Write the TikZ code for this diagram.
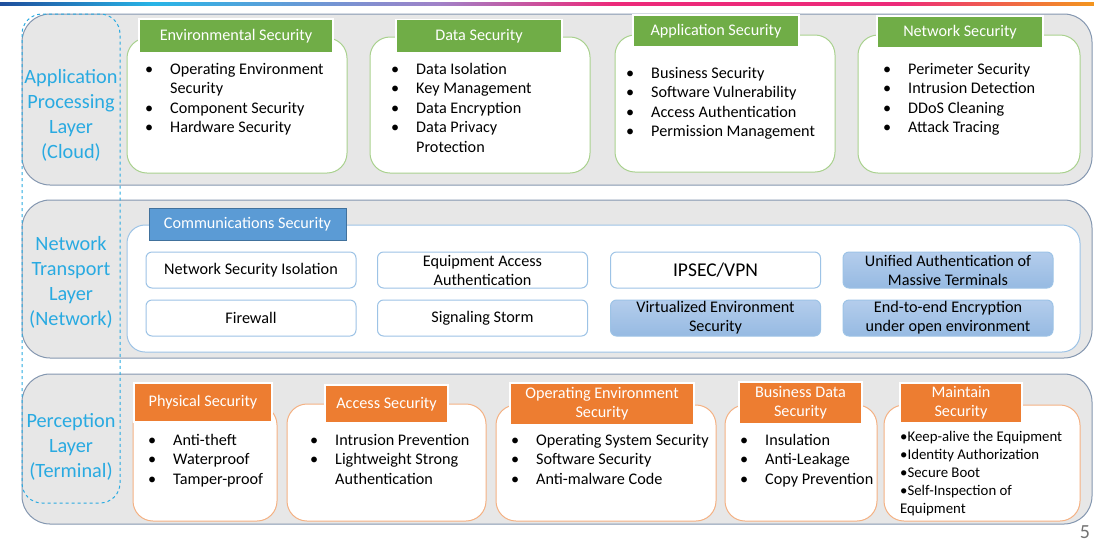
\documentclass[tikz,border=0pt]{standalone}
\usepackage{fontspec}
\setmainfont{Carlito}
\usepackage{tikz}
\usetikzlibrary{positioning}

\definecolor{layerfill}{RGB}{231,231,231}
\definecolor{layeredge}{RGB}{132,151,176}
\definecolor{labelblue}{RGB}{41,170,225}
\definecolor{greenhd}{RGB}{112,173,71}
\definecolor{greenedge}{RGB}{169,209,142}
\definecolor{orangehd}{RGB}{237,125,49}
\definecolor{orangeedge}{RGB}{244,177,131}
\definecolor{commhd}{RGB}{91,155,213}
\definecolor{commedge}{RGB}{65,113,156}
\definecolor{itemedge}{RGB}{157,195,230}
\definecolor{itemtop}{RGB}{180,205,236}
\definecolor{itembot}{RGB}{150,186,226}
\definecolor{barA}{RGB}{31,78,156}
\definecolor{barB}{RGB}{40,180,230}
\definecolor{barC}{RGB}{160,130,200}
\definecolor{barD}{RGB}{236,42,122}
\definecolor{barE}{RGB}{243,150,30}

\pgfdeclarehorizontalshading{topbar}{100bp}{color(0bp)=(barA); color(25bp)=(barA);
  color(32bp)=(barB); color(45bp)=(barC); color(53bp)=(barD); color(66bp)=(barD);
  color(75bp)=(barE); color(100bp)=(barE)}

\newcommand{\bul}{\makebox[25pt][l]{\textbullet}}
\newcommand{\seclist}[1]{\begin{tabular}[t]{@{}l@{}l@{}}#1\end{tabular}}
\newcommand{\plainlist}[1]{\begin{tabular}[t]{@{}l@{}}#1\end{tabular}}

\begin{document}
\begin{tikzpicture}[x=1pt,y=-1pt,
    layerbox/.style={draw=layeredge,fill=layerfill,line width=1pt,rounded corners=28pt},
    layerlabel/.style={text=labelblue,align=center,font=\fontsize{20.3}{25}\selectfont},
    greenbox/.style={draw=greenedge,fill=white,line width=1pt,rounded corners=20pt},
    orangebox/.style={draw=orangeedge,fill=white,line width=1pt,rounded corners=20pt},
    head/.style={draw=white,line width=1.5pt,text=white,align=center,inner sep=0pt,
      font=\fontsize{16.2}{19}\selectfont},
    greenhead/.style={head,fill=greenhd},
    orangehead/.style={head,fill=orangehd},
    commhead/.style={head,draw=commedge,line width=0.8pt,fill=commhd},
    itembox/.style={draw=itemedge,fill=white,line width=1pt,rounded corners=6pt,
      minimum width=210,minimum height=36,align=center,inner sep=0pt,
      font=\fontsize{16.2}{19}\selectfont},
    shadedbox/.style={itembox,top color=itemtop,bottom color=itembot},
    items/.style={anchor=base west,inner sep=0pt,font=\fontsize{16.2}{19.5}\selectfont}]

    \useasboundingbox (0,0) rectangle (1094,542);
    \shade[shading=topbar] (0,2) rectangle (1094,5);

    % layers
    \draw[layerbox] (22,14) rectangle (1092,185);
    \draw[layerbox] (22,200) rectangle (1092,358);
    \draw[layerbox] (22,374) rectangle (1092,524);
    \draw[labelblue,dashed,line width=1pt,rounded corners=20pt] (22,14) rectangle (120,503);

    \node[layerlabel] (cloudlbl) at (71,115) {Application\\Processing\\Layer\\(Cloud)};
    \node[layerlabel] (netlbl) at (71,282) {Network\\Transport\\Layer\\(Network)};
    \node[layerlabel] (termlbl) at (71,447) {Perception\\Layer\\(Terminal)};

    % application processing layer
    \draw[greenbox] (127,38) rectangle (347,173);
    \draw[greenbox] (370,37) rectangle (590,173);
    \draw[greenbox] (615,35) rectangle (835,172);
    \draw[greenbox] (858,35) rectangle (1080,173);

    \node[greenhead,minimum width=194,minimum height=34] (envhead) at (236,36) {Environmental Security};
    \node[greenhead,minimum width=166,minimum height=33] (datahead) at (479,36) {Data Security};
    \node[greenhead,minimum width=166,minimum height=32] (apphead) at (716,31) {Application Security};
    \node[greenhead,minimum width=166,minimum height=32] (nethead) at (960,32) {Network Security};

    \node[items] (envlist) at (145,74) {\seclist{\bul & Operating Environment\\ & Security\\
      \bul & Component Security\\ \bul & Hardware Security}};
    \node[items] (datalist) at (391,74) {\seclist{\bul & Data Isolation\\ \bul & Key Management\\
      \bul & Data Encryption\\ \bul & Data Privacy\\ & Protection}};
    \node[items] (applist) at (626,78) {\seclist{\bul & Business Security\\ \bul & Software Vulnerability\\
      \bul & Access Authentication\\ \bul & Permission Management}};
    \node[items] (netlist) at (883,74) {\seclist{\bul & Perimeter Security\\ \bul & Intrusion Detection\\
      \bul & DDoS Cleaning\\ \bul & Attack Tracing}};

    % network transport layer
    \draw[draw=itemedge,fill=white,line width=1pt,rounded corners=18pt] (127,225) rectangle (1080,352);
    \node[commhead,minimum width=197,minimum height=32] (commhd) at (247.5,224) {Communications Security};

    \node[itembox] (isol) at (251,270) {Network Security Isolation};
    \node[itembox] (equip) at (482.5,270) {Equipment Access\\Authentication};
    \node[itembox,font=\fontsize{19.5}{20}\selectfont] (ipsec) at (715.5,270) {IPSEC/VPN};
    \node[shadedbox] (unified) at (948,270) {Unified Authentication of\\Massive Terminals};
    \node[itembox] (firewall) at (251,318) {Firewall};
    \node[itembox] (storm) at (482.5,318) {Signaling Storm};
    \node[shadedbox] (virt) at (715.5,318) {Virtualized Environment\\Security};
    \node[shadedbox] (e2e) at (948,318) {End-to-end Encryption\\under open environment};

    % perception layer
    \draw[orangebox] (133,405) rectangle (277,521);
    \draw[orangebox] (287,404) rectangle (486,521);
    \draw[orangebox] (496,405) rectangle (716,521);
    \draw[orangebox] (725,405) rectangle (877,521);
    \draw[orangebox] (884,405) rectangle (1080,521);

    \node[orangehead,minimum width=138,minimum height=39] (physhead) at (203,402.5) {Physical Security};
    \node[orangehead,minimum width=123,minimum height=38] (accesshead) at (386.5,404) {Access Security};
    \node[orangehead,minimum width=184,minimum height=42] (oshead) at (602,404) {Operating Environment\\Security};
    \node[orangehead,minimum width=123,minimum height=42] (bizhead) at (800.5,403) {Business Data\\Security};
    \node[orangehead,minimum width=122,minimum height=40] (mainthead) at (961,403) {Maintain\\Security};

    \node[items] (physlist) at (148,445) {\seclist{\bul & Anti-theft\\ \bul & Waterproof\\ \bul & Tamper-proof}};
    \node[items] (accesslist) at (310,445) {\seclist{\bul & Intrusion Prevention\\ \bul & Lightweight Strong\\
      & Authentication}};
    \node[items] (oslist) at (511,445) {\seclist{\bul & Operating System Security\\ \bul & Software Security\\
      \bul & Anti-malware Code}};
    \node[items] (bizlist) at (740,445) {\seclist{\bul & Insulation\\ \bul & Anti-Leakage\\
      \bul & Copy Prevention}};
    \node[items,font=\fontsize{14.8}{18}\selectfont] (maintlist) at (900,441)
      {\plainlist{\textbullet Keep-alive the Equipment\\ \textbullet Identity Authorization\\ \textbullet Secure Boot\\
       \textbullet Self-Inspection of\\ Equipment}};

    \node[text=black!55,font=\fontsize{20}{20}\selectfont] (pagenum) at (1085,532) {5};
\end{tikzpicture}
\end{document}
